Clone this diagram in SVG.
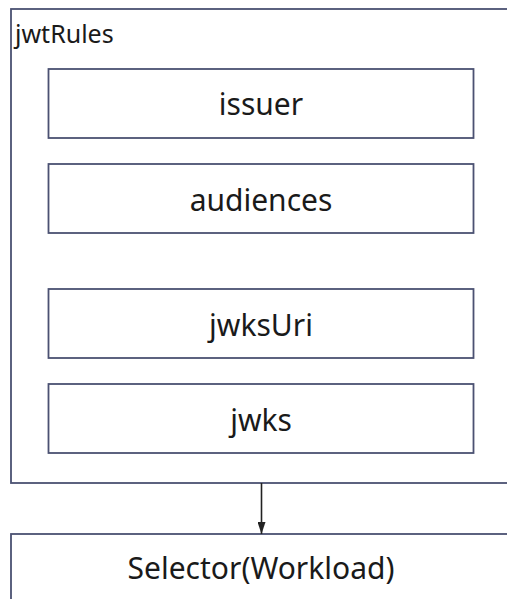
<svg xmlns="http://www.w3.org/2000/svg" width="507" height="599" viewBox="0 0 507 599">
<style>
.box{fill:#ffffff;stroke:#4b5172;stroke-width:1.8}
.t{font-family:"Noto Sans","DejaVu Sans",sans-serif;font-size:30px;fill:#1a1a1a;text-anchor:middle}
.lbl{font-family:"Noto Sans","DejaVu Sans",sans-serif;font-size:25px;fill:#1a1a1a}
.edge{stroke:#222222;stroke-width:1.6;fill:none}
</style>
<defs>
<marker id="arr" viewBox="0 0 12 8" refX="12" refY="4" markerWidth="12" markerHeight="8" markerUnits="userSpaceOnUse" orient="auto">
<path d="M0,0 L12,4 L0,8 Z" fill="#222222"/>
</marker>
</defs>
<rect width="507" height="599" fill="#ffffff"/>
<g id="jwtRules">
<rect class="box" x="11" y="9" width="510" height="474"/>
<text class="lbl" x="15" y="43">jwtRules</text>
</g>
<g id="issuer">
<rect class="box" x="48.5" y="69" width="425" height="69"/>
<text class="t" x="261" y="115">issuer</text>
</g>
<g id="audiences">
<rect class="box" x="48.5" y="164" width="425" height="69"/>
<text class="t" x="261" y="211">audiences</text>
</g>
<g id="jwksUri">
<rect class="box" x="48.5" y="289" width="425" height="69"/>
<text class="t" x="261" y="336">jwksUri</text>
</g>
<g id="jwks">
<rect class="box" x="48.5" y="384" width="425" height="69"/>
<text class="t" x="261" y="431">jwks</text>
</g>
<g id="selector">
<rect class="box" x="11" y="534" width="510" height="80"/>
<text class="t" x="261" y="579">Selector(Workload)</text>
</g>
<g id="connectors">
<line class="edge" x1="261.5" y1="483" x2="261.5" y2="534" marker-end="url(#arr)"/>
</g>
</svg>
